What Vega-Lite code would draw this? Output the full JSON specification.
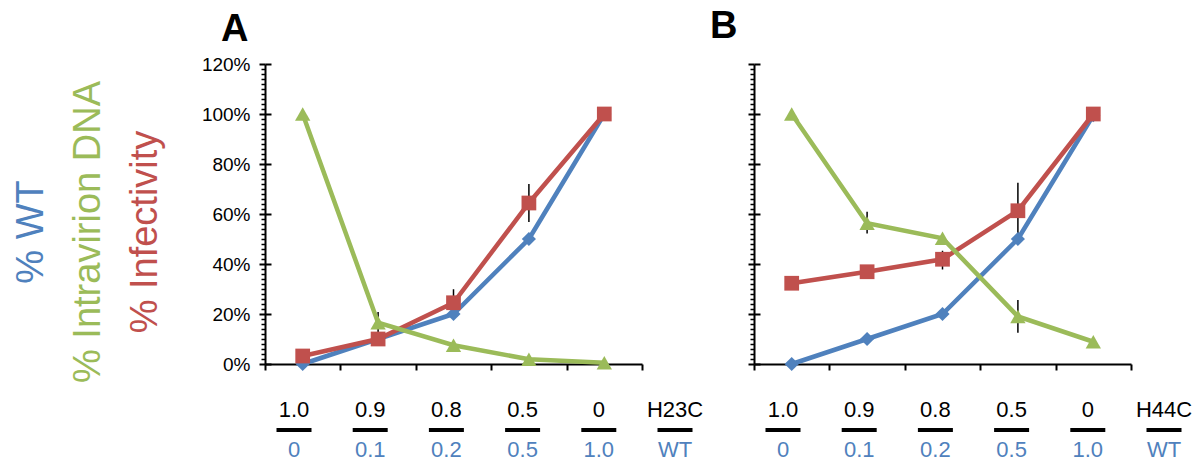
{
  "$schema": "https://vega.github.io/schema/vega-lite/v6.json",
  "background": "white",
  "padding": {"left": 12, "top": 8, "right": 0, "bottom": 0},
  "config": {
    "font": "Liberation Sans",
    "view": {"stroke": null},
    "axis": {"labelFont": "Liberation Sans"}
  },
  "datasets": {
    "pts": [
      {"panel": "A", "series": "WT", "cat": 1, "value": 0},
      {"panel": "A", "series": "WT", "cat": 2, "value": 10},
      {"panel": "A", "series": "WT", "cat": 3, "value": 20},
      {"panel": "A", "series": "WT", "cat": 4, "value": 50},
      {"panel": "A", "series": "WT", "cat": 5, "value": 100},
      {"panel": "A", "series": "Inf", "cat": 1, "value": 3.2},
      {"panel": "A", "series": "Inf", "cat": 2, "value": 10},
      {"panel": "A", "series": "Inf", "cat": 3, "value": 24.5, "lo": 19.1, "hi": 29.9},
      {"panel": "A", "series": "Inf", "cat": 4, "value": 64.4, "lo": 56.8, "hi": 72},
      {"panel": "A", "series": "Inf", "cat": 5, "value": 100},
      {"panel": "A", "series": "DNA", "cat": 1, "value": 100},
      {"panel": "A", "series": "DNA", "cat": 2, "value": 16.5, "lo": 12.2, "hi": 20.8},
      {"panel": "A", "series": "DNA", "cat": 3, "value": 7.5},
      {"panel": "A", "series": "DNA", "cat": 4, "value": 1.9},
      {"panel": "A", "series": "DNA", "cat": 5, "value": 0.5},
      {"panel": "B", "series": "WT", "cat": 1, "value": 0},
      {"panel": "B", "series": "WT", "cat": 2, "value": 10},
      {"panel": "B", "series": "WT", "cat": 3, "value": 20},
      {"panel": "B", "series": "WT", "cat": 4, "value": 50},
      {"panel": "B", "series": "WT", "cat": 5, "value": 99.5},
      {"panel": "B", "series": "Inf", "cat": 1, "value": 32.3},
      {"panel": "B", "series": "Inf", "cat": 2, "value": 36.9},
      {"panel": "B", "series": "Inf", "cat": 3, "value": 41.9, "lo": 37.8, "hi": 45.3},
      {"panel": "B", "series": "Inf", "cat": 4, "value": 61.3, "lo": 50.1, "hi": 72.5},
      {"panel": "B", "series": "Inf", "cat": 5, "value": 100},
      {"panel": "B", "series": "DNA", "cat": 1, "value": 100},
      {"panel": "B", "series": "DNA", "cat": 2, "value": 56.3, "lo": 52.2, "hi": 60.9},
      {"panel": "B", "series": "DNA", "cat": 3, "value": 50.3},
      {"panel": "B", "series": "DNA", "cat": 4, "value": 19, "lo": 12.5, "hi": 25.6},
      {"panel": "B", "series": "DNA", "cat": 5, "value": 8.9}
    ],
    "lbl": [
      {"panel": "A", "cat": 1, "top": "1.0", "bottom": "0"},
      {"panel": "A", "cat": 2, "top": "0.9", "bottom": "0.1"},
      {"panel": "A", "cat": 3, "top": "0.8", "bottom": "0.2"},
      {"panel": "A", "cat": 4, "top": "0.5", "bottom": "0.5"},
      {"panel": "A", "cat": 5, "top": "0", "bottom": "1.0"},
      {"panel": "A", "cat": 6, "top": "H23C", "bottom": "WT"},
      {"panel": "B", "cat": 1, "top": "1.0", "bottom": "0"},
      {"panel": "B", "cat": 2, "top": "0.9", "bottom": "0.1"},
      {"panel": "B", "cat": 3, "top": "0.8", "bottom": "0.2"},
      {"panel": "B", "cat": 4, "top": "0.5", "bottom": "0.5"},
      {"panel": "B", "cat": 5, "top": "0", "bottom": "1.0"},
      {"panel": "B", "cat": 6, "top": "H44C", "bottom": "WT"}
    ],
    "ttl": [
      {"series": "WT", "text": "% WT"},
      {"series": "DNA", "text": "% Intravirion DNA"},
      {"series": "Inf", "text": "% Infectivity"}
    ]
  },
  "bounds": "flush",
  "columns": 3,
  "spacing": {"row": 0, "column": 112},
  "concat": [
    {
      "width": 140,
      "height": 336,
      "data": {"name": "ttl"},
      "mark": {"type": "text", "angle": 270, "fontSize": 38, "baseline": "alphabetic", "align": "center", "font": "Liberation Sans"},
      "encoding": {
        "x": {"field": "series", "type": "nominal", "scale": {"type": "point", "domain": ["WT", "DNA", "Inf"], "range": [30, 144], "padding": 0}, "axis": null},
        "text": {"field": "text"},
        "color": {"field": "series", "type": "nominal", "scale": {"domain": ["WT", "Inf", "DNA"], "range": ["#4F81BD", "#C0504D", "#9BBB59"]}, "legend": null}
      }
    },
    {
      "width": 377,
      "height": 300,
      "title": {"text": "A", "anchor": "start", "frame": "group", "dx": -44, "fontSize": 38, "fontWeight": "bold", "font": "Liberation Sans", "color": "black", "baseline": "alphabetic", "offset": -24},
      "data": {"name": "pts"},
      "transform": [{"filter": "datum.panel === 'A'"}],
      "layer": [
        {
          "transform": [{"filter": "isValid(datum.lo)"}],
          "mark": {"type": "rule", "color": "black", "strokeWidth": 1.5},
          "encoding": {
            "x": {"field": "cat", "type": "quantitative", "scale": {"domain": [0.5, 5.5], "nice": false, "zero": false}, "axis": null},
            "y": {"field": "lo", "type": "quantitative", "scale": {"domain": [0, 120], "nice": false}, "axis": null},
            "y2": {"field": "hi"}
          }
        },
        {
          "mark": {"type": "line", "strokeWidth": 4.5},
          "encoding": {
            "x": {"field": "cat", "type": "quantitative", "axis": {"orient": "bottom", "values": [0.5, 1.5, 2.5, 3.5, 4.5, 5.5], "labels": false, "tickSize": 6, "tickWidth": 2, "tickColor": "black", "domainColor": "black", "domainWidth": 2, "grid": false, "title": null}},
            "y": {"field": "value", "type": "quantitative", "axis": {"orient": "left", "values": [0,2,4,6,8,10,12,14,16,18,20,22,24,26,28,30,32,34,36,38,40,42,44,46,48,50,52,54,56,58,60,62,64,66,68,70,72,74,76,78,80,82,84,86,88,90,92,94,96,98,100,102,104,106,108,110,112,114,116,118,120], "labelExpr": "datum.value % 20 === 0 ? datum.value + '%' : ''", "labelOverlap": false, "labelBound": false, "labelFlush": false, "labelFontSize": 19, "labelColor": "black", "labelPadding": 9, "tickSize": {"condition": {"test": "datum.value % 20 === 0", "value": 6}, "value": 4}, "tickWidth": {"condition": {"test": "datum.value % 20 === 0", "value": 2}, "value": 1.5}, "tickColor": "black", "domainColor": "black", "domainWidth": 2, "grid": false, "title": null}},
            "color": {"field": "series", "type": "nominal", "scale": {"domain": ["WT", "Inf", "DNA"], "range": ["#4F81BD", "#C0504D", "#9BBB59"]}, "legend": null}
          }
        },
        {
          "mark": {"type": "point", "filled": true, "opacity": 1, "strokeWidth": 0},
          "encoding": {
            "x": {"field": "cat", "type": "quantitative", "axis": null},
            "y": {"field": "value", "type": "quantitative", "axis": {"orient": "left", "values": [0, 20, 40, 60, 80, 100, 120], "labels": false, "domain": false, "grid": false, "title": null, "tickSize": -6, "tickWidth": 2, "tickColor": "black"}},
            "color": {"field": "series", "type": "nominal", "legend": null},
            "shape": {"field": "series", "type": "nominal", "scale": {"domain": ["WT", "Inf", "DNA"], "range": ["diamond", "square", "triangle-up"]}, "legend": null},
            "size": {"field": "series", "type": "nominal", "scale": {"domain": ["WT", "Inf", "DNA"], "range": [200, 235, 320]}, "legend": null}
          }
        }
      ],
      "resolve": {"axis": {"y": "independent", "x": "independent"}}
    },
    {
      "width": 377,
      "height": 300,
      "title": {"text": "B", "anchor": "start", "frame": "group", "dx": -44, "fontSize": 38, "fontWeight": "bold", "font": "Liberation Sans", "color": "black", "baseline": "alphabetic", "offset": -13},
      "data": {"name": "pts"},
      "transform": [{"filter": "datum.panel === 'B'"}],
      "layer": [
        {
          "transform": [{"filter": "isValid(datum.lo)"}],
          "mark": {"type": "rule", "color": "black", "strokeWidth": 1.5},
          "encoding": {
            "x": {"field": "cat", "type": "quantitative", "scale": {"domain": [0.5, 5.5], "nice": false, "zero": false}, "axis": null},
            "y": {"field": "lo", "type": "quantitative", "scale": {"domain": [0, 120], "nice": false}, "axis": null},
            "y2": {"field": "hi"}
          }
        },
        {
          "mark": {"type": "line", "strokeWidth": 4.5},
          "encoding": {
            "x": {"field": "cat", "type": "quantitative", "axis": {"orient": "bottom", "values": [0.5, 1.5, 2.5, 3.5, 4.5, 5.5], "labels": false, "tickSize": 6, "tickWidth": 2, "tickColor": "black", "domainColor": "black", "domainWidth": 2, "grid": false, "title": null}},
            "y": {"field": "value", "type": "quantitative", "axis": {"orient": "left", "values": [0,2,4,6,8,10,12,14,16,18,20,22,24,26,28,30,32,34,36,38,40,42,44,46,48,50,52,54,56,58,60,62,64,66,68,70,72,74,76,78,80,82,84,86,88,90,92,94,96,98,100,102,104,106,108,110,112,114,116,118,120], "labels": false, "tickSize": {"condition": {"test": "datum.value % 20 === 0", "value": 6}, "value": 4}, "tickWidth": {"condition": {"test": "datum.value % 20 === 0", "value": 2}, "value": 1.5}, "tickColor": "black", "domainColor": "black", "domainWidth": 2, "grid": false, "title": null}},
            "color": {"field": "series", "type": "nominal", "scale": {"domain": ["WT", "Inf", "DNA"], "range": ["#4F81BD", "#C0504D", "#9BBB59"]}, "legend": null}
          }
        },
        {
          "mark": {"type": "point", "filled": true, "opacity": 1, "strokeWidth": 0},
          "encoding": {
            "x": {"field": "cat", "type": "quantitative", "axis": null},
            "y": {"field": "value", "type": "quantitative", "axis": {"orient": "left", "values": [0, 20, 40, 60, 80, 100, 120], "labels": false, "domain": false, "grid": false, "title": null, "tickSize": -6, "tickWidth": 2, "tickColor": "black"}},
            "color": {"field": "series", "type": "nominal", "legend": null},
            "shape": {"field": "series", "type": "nominal", "scale": {"domain": ["WT", "Inf", "DNA"], "range": ["diamond", "square", "triangle-up"]}, "legend": null},
            "size": {"field": "series", "type": "nominal", "scale": {"domain": ["WT", "Inf", "DNA"], "range": [200, 235, 320]}, "legend": null}
          }
        }
      ],
      "resolve": {"axis": {"y": "independent", "x": "independent"}}
    },
    {
      "width": 140,
      "height": 60,
      "data": {"values": [{"t": ""}]},
      "mark": {"type": "text"},
      "encoding": {"text": {"field": "t"}}
    },
    {
      "width": 377,
      "height": 60,
      "data": {"name": "lbl"},
      "transform": [{"filter": "datum.panel === 'A'"}],
      "encoding": {
        "x": {"field": "cat", "type": "quantitative", "scale": {"domain": [1, 6], "range": [29, 410]}, "axis": null}
      },
      "layer": [
        {
          "mark": {"type": "text", "fontSize": 22, "color": "black", "font": "Liberation Sans"},
          "encoding": {
            "y": {"datum": "top", "type": "ordinal", "scale": {"type": "point", "domain": ["top", "bar", "bottom"], "padding": 0.5}, "axis": null},
            "text": {"field": "top"}
          }
        },
        {
          "mark": {"type": "point", "shape": "M-1,-0.11L1,-0.11L1,0.11L-1,0.11Z", "filled": true, "color": "black", "size": 1225, "opacity": 1, "strokeWidth": 0},
          "encoding": {"y": {"datum": "bar", "type": "ordinal"}}
        },
        {
          "mark": {"type": "text", "fontSize": 22, "color": "#4F81BD", "font": "Liberation Sans"},
          "encoding": {
            "y": {"datum": "bottom", "type": "ordinal"},
            "text": {"field": "bottom"}
          }
        }
      ]
    },
    {
      "width": 377,
      "height": 60,
      "data": {"name": "lbl"},
      "transform": [{"filter": "datum.panel === 'B'"}],
      "encoding": {
        "x": {"field": "cat", "type": "quantitative", "scale": {"domain": [1, 6], "range": [29, 410]}, "axis": null}
      },
      "layer": [
        {
          "mark": {"type": "text", "fontSize": 22, "color": "black", "font": "Liberation Sans"},
          "encoding": {
            "y": {"datum": "top", "type": "ordinal", "scale": {"type": "point", "domain": ["top", "bar", "bottom"], "padding": 0.5}, "axis": null},
            "text": {"field": "top"}
          }
        },
        {
          "mark": {"type": "point", "shape": "M-1,-0.11L1,-0.11L1,0.11L-1,0.11Z", "filled": true, "color": "black", "size": 1225, "opacity": 1, "strokeWidth": 0},
          "encoding": {"y": {"datum": "bar", "type": "ordinal"}}
        },
        {
          "mark": {"type": "text", "fontSize": 22, "color": "#4F81BD", "font": "Liberation Sans"},
          "encoding": {
            "y": {"datum": "bottom", "type": "ordinal"},
            "text": {"field": "bottom"}
          }
        }
      ]
    }
  ]
}
